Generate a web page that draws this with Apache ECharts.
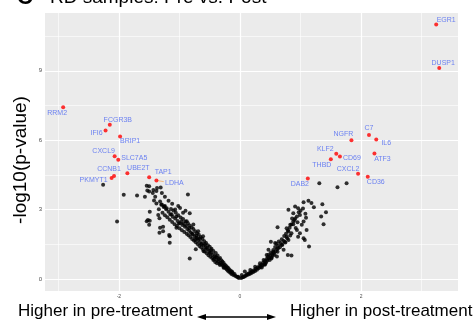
<!DOCTYPE html>
<html>
<head>
<meta charset="utf-8">
<script src="https://cdn.jsdelivr.net/npm/echarts@6/dist/echarts.min.js"></script>
<style>
  html, body { margin: 0; padding: 0; background: #fff; }
  #chart { width: 475px; height: 325px; }
</style>
</head>
<body>
<div id="chart"></div>
<script>
// labelled genes (red points)
var geneNames = ['EGR1', 'DUSP1', 'RRM2', 'FCGR3B', 'IFI6', 'BRIP1', 'CXCL9', 'SLC7A5', 'CCNB1', 'PKMYT1', 'UBE2T', 'TAP1', 'LDHA',
                 'C7', 'NGFR', 'IL6', 'KLF2', 'CD69', 'ATF3', 'THBD', 'CXCL2', 'CD36', 'DAB2'];
var geneFC = [3.24, 3.29, -2.92, -2.15, -2.22, -1.98, -2.07, -2.01, -2.08, -2.12, -1.86, -1.50, -1.38,
              2.13, 1.84, 2.25, 1.59, 1.65, 2.22, 1.50, 1.95, 2.11, 1.12];
var genePval = [11.0, 9.12, 7.42, 6.67, 6.42, 6.16, 5.31, 5.15, 4.45, 4.37, 4.57, 4.40, 4.26,
                6.22, 6.0, 6.03, 5.41, 5.30, 5.43, 5.18, 4.55, 4.42, 4.34];
// label offsets in px from the point
var labelOffsets = [[10, -5], [4, -5], [-6, 6], [8, -5], [-9, 3], [10, 5], [-11, -5], [16, -2], [-5, -7], [-18, 2], [11, -5], [14, -5], [18, 3],
                    [0, -7], [-8, -6], [10, 4], [-11, -5], [12, 2], [8, 6], [-9, 6], [-10, -5], [8, 5], [-8, 5]];

// all other genes (black points): [log2FC, -log10 p]
var otherGenes = [
  // left, sparse upper part
  [-2.26,4.07],[-2.03,2.48],[-1.92,3.64],[-1.70,3.61],[-1.57,3.55],[-1.54,4.03],[-1.50,4.01],[-1.43,3.85],[-1.37,3.93],
  [-1.31,3.95],[-1.50,3.78],[-1.40,3.56],[-1.42,3.39],[-1.32,3.35],[-1.25,3.13],[-1.49,2.91],[-1.35,2.77],[-1.33,2.63],
  [-1.52,2.55],[-1.50,2.34],[-1.27,2.26],[-1.17,1.90],[-1.21,3.06],[-1.53,3.82],[-1.38,3.80],[-1.29,3.72],[-1.44,3.72],
  [-0.86,3.65],[-1.49,2.52],[-1.54,2.50],[-1.29,3.22],[-1.24,3.15],[-1.24,3.56],[-1.07,3.0],[-0.99,3.07],[-0.94,2.86],
  [-0.88,2.50],[-0.77,2.35],[-0.69,2.06],[-0.61,1.85],[-1.05,2.21],[-1.32,2.21],[-1.27,2.06],[-1.16,1.85],[-1.16,1.57],
  [-1.33,2.0],[-0.83,0.89],[-0.83,2.84],[-0.90,2.95],[-1.12,3.25],[-1.18,3.38],[-1.02,3.15],[-0.73,1.28],
  // left, dense band
  [-0.02,0.04],[-0.04,0.08],[-0.06,0.11],[-0.08,0.14],[-0.09,0.21],[-0.11,0.17],[-0.12,0.26],[-0.13,0.31],[-0.14,0.22],
  [-0.15,0.34],[-0.16,0.27],[-0.17,0.39],[-0.18,0.31],[-0.19,0.46],[-0.20,0.36],[-0.21,0.51],[-0.22,0.41],[-0.23,0.56],
  [-0.24,0.47],[-0.25,0.62],[-0.26,0.52],[-0.27,0.69],[-0.28,0.57],[-0.29,0.76],[-0.30,0.63],[-0.31,0.81],[-0.32,0.70],
  [-0.33,0.91],[-0.34,0.66],[-0.35,0.86],[-0.36,0.76],[-0.37,1.01],[-0.38,0.81],[-0.39,0.93],[-0.40,1.12],[-0.41,0.73],
  [-0.42,0.98],[-0.43,0.86],[-0.44,1.21],[-0.45,1.05],[-0.46,0.91],[-0.47,1.31],[-0.48,1.12],[-0.49,0.96],[-0.50,1.39],
  [-0.51,1.21],[-0.52,1.03],[-0.53,1.46],[-0.54,1.28],[-0.55,1.11],[-0.56,1.56],[-0.57,1.36],[-0.58,1.19],[-0.59,1.63],
  [-0.60,1.45],[-0.61,1.27],[-0.62,1.73],[-0.63,1.52],[-0.64,1.36],[-0.65,1.81],[-0.66,1.60],[-0.67,1.43],[-0.68,1.91],
  [-0.69,1.68],[-0.70,1.51],[-0.71,1.98],[-0.72,1.78],[-0.73,1.59],[-0.74,2.06],[-0.75,1.85],[-0.76,1.66],[-0.77,2.16],
  [-0.78,1.93],[-0.79,1.73],[-0.80,2.23],[-0.81,2.01],[-0.82,1.81],[-0.83,2.31],[-0.84,2.08],[-0.85,1.89],[-0.86,2.41],
  [-0.87,2.16],[-0.88,1.96],[-0.90,2.49],[-0.91,2.26],[-0.92,2.03],[-0.94,2.59],[-0.95,2.33],[-0.96,2.11],[-0.98,2.66],
  [-0.99,2.41],[-1.00,2.19],[-1.02,2.76],[-1.03,2.51],[-1.04,2.29],[-1.06,2.86],[-1.07,2.61],[-1.08,2.37],[-1.10,2.96],
  [-1.11,2.69],[-1.12,2.46],[-1.14,3.03],[-1.15,2.79],[-1.16,2.56],[-1.18,2.91],[-1.20,2.67],[-1.22,3.01],[-1.24,2.76],
  [-1.26,3.11],[-1.28,2.86],[-1.30,3.21],[-1.34,3.01],[-1.38,3.26],
  [-0.27,0.48],[-0.33,0.60],[-0.38,0.68],[-0.44,0.82],[-0.50,1.12],[-0.55,1.34],[-0.60,1.20],[-0.64,1.50],[-0.70,1.75],
  [-0.74,1.70],[-0.79,1.95],[-0.84,2.20],[-0.89,2.30],[-0.93,2.40],[-0.97,2.50],[-1.01,2.40],[-1.05,2.70],[-1.13,2.80],
  [-0.58,1.50],[-0.48,1.25],[-0.40,0.95],[-0.66,1.75],[-0.72,1.88],
  // right, sparse upper part
  [1.31,4.14],[1.61,3.97],[1.76,4.14],[1.05,3.32],[1.13,3.38],[1.18,3.28],[1.22,3.10],[1.36,3.23],[0.91,3.13],[0.96,3.06],
  [0.80,2.99],[0.88,2.84],[0.99,2.77],[0.94,2.70],[1.42,2.89],[1.34,2.70],[1.38,2.37],[1.09,2.65],[1.05,2.48],[1.02,2.34],
  [0.88,2.37],[0.83,2.34],[0.62,2.24],[0.77,2.19],[0.80,2.05],[0.85,1.98],[0.94,2.12],[0.99,1.98],[1.10,2.12],[0.96,1.83],
  [1.05,1.76],[0.77,1.83],[0.80,1.69],[0.74,1.61],[1.07,1.69],[1.14,1.40],[0.69,1.47],[0.58,1.55],[0.51,1.61],[0.63,1.33],
  [0.72,1.26],[0.79,1.04],[0.85,1.01],[0.55,1.18],[0.47,1.26],[0.44,1.04],[0.52,0.89],[0.61,0.97],[0.39,0.82],[0.33,0.68],
  [0.41,0.61],[0.25,0.53],[0.17,0.39],[0.08,0.32],[0.03,0.17],[-0.03,0.10],[0.90,2.55],[0.86,2.62],[0.92,2.20],
  // right, dense band
  [0.02,0.04],[0.04,0.07],[0.06,0.09],[0.08,0.12],[0.10,0.15],[0.11,0.20],[0.13,0.18],[0.14,0.24],[0.16,0.22],[0.17,0.28],
  [0.19,0.26],[0.20,0.33],[0.22,0.30],[0.23,0.38],[0.25,0.35],[0.26,0.44],[0.28,0.40],[0.29,0.50],[0.31,0.46],[0.32,0.56],
  [0.34,0.52],[0.35,0.62],[0.37,0.58],[0.38,0.70],[0.40,0.65],[0.41,0.78],[0.43,0.72],[0.44,0.86],[0.45,0.80],[0.46,0.95],
  [0.47,1.05],[0.48,0.90],[0.50,1.00],[0.51,1.15],[0.52,0.93],[0.53,1.08],[0.55,1.25],[0.56,1.12],[0.58,1.38],[0.59,1.20],
  [0.60,1.52],[0.61,1.30],[0.63,1.45],[0.64,1.62],[0.66,1.37],[0.67,1.55],[0.69,1.72],[0.70,1.48],[0.72,1.64],[0.73,1.86],
  [0.75,1.58],[0.76,1.95],[0.78,1.76],[0.79,2.10],[0.82,2.22],[0.83,1.88],[0.85,2.35],[0.88,2.48],[0.91,2.62],[0.95,2.45],
  [0.97,2.88],[1.00,2.95],[1.04,3.05],[1.08,2.82],
  [0.36,0.50],[0.42,0.66],[0.49,0.82],[0.54,1.00],[0.57,1.05],[0.62,1.18]
];

// axis ticks
var xTicks = [-2, 0, 2];
var yTicks = [0, 3, 6, 9];
var xMinorGrid = [-3, -1, 1, 3];
var yMinorGrid = [1.5, 4.5, 7.5, 10.5];

var font = 'Liberation Sans, Arial, sans-serif';
var chart = echarts.init(document.getElementById('chart'));

var gridLines = [];
xTicks.forEach(function (v) { gridLines.push({ xAxis: v, lineStyle: { width: 1.2 } }); });
xMinorGrid.forEach(function (v) { gridLines.push({ xAxis: v, lineStyle: { width: 0.6 } }); });
yTicks.forEach(function (v) { gridLines.push({ yAxis: v, lineStyle: { width: 1.2 } }); });
yMinorGrid.forEach(function (v) { gridLines.push({ yAxis: v, lineStyle: { width: 0.6 } }); });

var redData = geneNames.map(function (n, i) {
  return { name: n, value: [geneFC[i], genePval[i]], label: { offset: labelOffsets[i] } };
});
var ldha = geneNames.indexOf('LDHA');

var option = {
  animation: false,
  grid: { left: 45, right: 17, top: 13, bottom: 34, show: true, backgroundColor: '#EBEBEB', borderWidth: 0 },
  xAxis: {
    type: 'value', min: -3.22, max: 3.6,
    axisLine: { show: false },
    axisTick: { show: true, customValues: xTicks, length: 2, lineStyle: { color: '#333', width: 0.6 } },
    axisLabel: { customValues: xTicks, fontSize: 5, color: '#4D4D4D', margin: 3, fontFamily: font },
    splitLine: { show: false }
  },
  yAxis: {
    type: 'value', min: -0.52, max: 11.5,
    axisLine: { show: false },
    axisTick: { show: true, customValues: yTicks, length: 2, lineStyle: { color: '#333', width: 0.6 } },
    axisLabel: { customValues: yTicks, fontSize: 6, color: '#4D4D4D', margin: 3, fontFamily: font },
    splitLine: { show: false }
  },
  series: [
    {
      type: 'scatter', data: [], z: 1,
      markLine: {
        silent: true, symbol: 'none', z: 1, animation: false,
        label: { show: false },
        lineStyle: { color: '#fff', type: 'solid' },
        data: gridLines
      }
    },
    {
      type: 'scatter', z: 3, symbolSize: 4, silent: true,
      itemStyle: { color: '#000' },
      data: otherGenes
    },
    {
      type: 'scatter', z: 4, symbolSize: 4, silent: true,
      itemStyle: { color: '#FF0000' },
      label: { show: true, position: 'inside', formatter: '{b}', fontSize: 7, color: '#4B67F2', fontFamily: font },
      data: redData,
      markLine: {
        silent: true, symbol: 'none', z: 2, animation: false,
        label: { show: false },
        lineStyle: { color: '#F2A65A', width: 0.8, type: 'solid' },
        data: [[{ coord: [geneFC[ldha], genePval[ldha]] }, { coord: [geneFC[ldha] + 0.12, genePval[ldha] - 0.05] }]]
      }
    }
  ],
  graphic: [
    { type: 'text', left: 17, top: -13, style: { text: 'C', fontSize: 22, fontWeight: 'bold', fill: '#000', fontFamily: font } },
    { type: 'text', left: 50, top: -12, style: { text: 'RD samples: Pre vs. Post', fontSize: 19, fill: '#000', fontFamily: font } },
    // y axis title
    { type: 'text', x: 21, y: 160, rotation: Math.PI / 2,
      style: { text: '-log10(p-value)', fontSize: 19, fill: '#000', fontFamily: font, align: 'center', verticalAlign: 'middle' } },
    { type: 'text', left: 18, top: 303, style: { text: 'Higher in pre-treatment', fontSize: 17, fill: '#000', fontFamily: font } },
    { type: 'text', left: 290, top: 303, style: { text: 'Higher in post-treatment', fontSize: 17, fill: '#000', fontFamily: font } },
    { type: 'line', shape: { x1: 204, y1: 317, x2: 269, y2: 317 }, style: { stroke: '#000', lineWidth: 1.5 } },
    { type: 'polygon', shape: { points: [[197, 317], [206, 314], [206, 320]] }, style: { fill: '#000' } },
    { type: 'polygon', shape: { points: [[276, 317], [267, 314], [267, 320]] }, style: { fill: '#000' } }
  ]
};

chart.setOption(option);
</script>
</body>
</html>
